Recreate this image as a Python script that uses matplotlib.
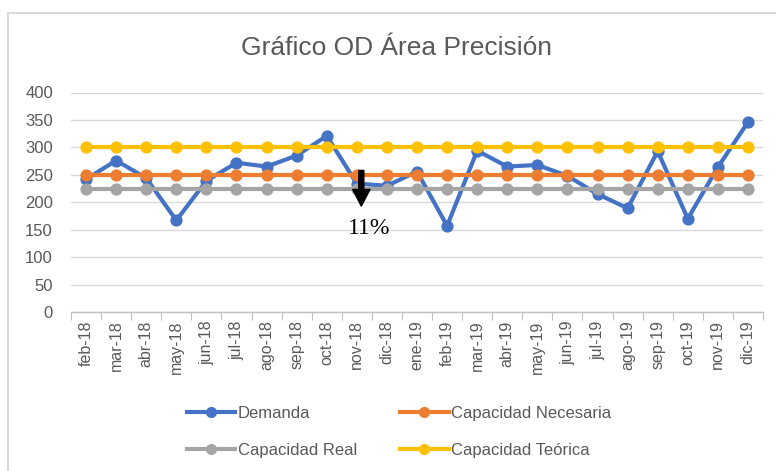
import matplotlib.pyplot as plt
from matplotlib.patches import Rectangle

# Data
meses = ["feb-18", "mar-18", "abr-18", "may-18", "jun-18", "jul-18", "ago-18",
         "sep-18", "oct-18", "nov-18", "dic-18", "ene-19", "feb-19", "mar-19",
         "abr-19", "may-19", "jun-19", "jul-19", "ago-19", "sep-19", "oct-19",
         "nov-19", "dic-19"]
demanda = [242, 276, 244, 167, 239, 272, 265, 285, 321, 234, 230, 256, 157,
           294, 265, 268, 248, 215, 189, 293, 170, 264, 346]
cap_necesaria = [250] * len(meses)
cap_real = [225] * len(meses)
cap_teorica = [300] * len(meses)

plt.rcParams['font.family'] = ['Liberation Sans', 'DejaVu Sans']
gray_text = "#595959"

fig = plt.figure(figsize=(7.76, 4.71), dpi=100)
ax = fig.add_axes([71 / 776, 1 - 312 / 471, 692 / 776, 219.5 / 471])

x = list(range(len(meses)))
style = dict(linewidth=3, marker="o", markersize=7.8)
l1, = ax.plot(x, demanda, color="#4472C4", label="Demanda", **style)
l2, = ax.plot(x, cap_necesaria, color="#ED7D31", label="Capacidad Necesaria", **style)
l3, = ax.plot(x, cap_real, color="#A5A5A5", label="Capacidad Real", **style)
l4, = ax.plot(x, cap_teorica, color="#FFC000", label="Capacidad Teórica", **style)

ax.set_xlim(-0.5, len(meses) - 0.5)
ax.set_ylim(0, 400)
ax.set_yticks(range(0, 401, 50))
ax.grid(axis="y", color="#D9D9D9", linewidth=1)
ax.set_axisbelow(True)
for side in ["top", "right", "left"]:
    ax.spines[side].set_visible(False)
ax.spines["bottom"].set_color("#BFBFBF")
ax.spines["bottom"].set_linewidth(1)

# category ticks between months, labels centred
ax.set_xticks([i - 0.5 for i in range(len(meses) + 1)])
ax.set_xticklabels([])
ax.set_xticks(x, minor=True)
ax.set_xticklabels(meses, minor=True, rotation=90, fontsize=11.5, color=gray_text)
ax.tick_params(axis="x", which="major", length=6, color="#BFBFBF")
ax.tick_params(axis="x", which="minor", length=0, pad=6)
ax.tick_params(axis="y", length=0, labelsize=12, labelcolor=gray_text, pad=13)

# annotation: arrow and percentage
ax.annotate("", xy=(9.15, 193), xytext=(9.15, 258),
            arrowprops=dict(width=3.6, headwidth=12.5, headlength=12,
                            facecolor="black", edgecolor="black"))
ax.text(9.4, 152, "11%", family="Liberation Serif", fontsize=17,
        ha="center", va="center", color="black")

fig.suptitle("Gráfico OD Área Precisión", x=0.511, y=1 - 48 / 471, va="center",
             fontsize=19, color=gray_text)

fig.legend([l1, l3, l2, l4],
           ["Demanda", "Capacidad Real", "Capacidad Necesaria", "Capacidad Teórica"],
           ncol=2, loc="center", bbox_to_anchor=(399 / 776, 1 - 432 / 471),
           frameon=False, fontsize=12, labelcolor=gray_text,
           handlelength=2.9, handletextpad=0.15, columnspacing=2.6,
           labelspacing=1.3, markerscale=0.9)

# outer chart border
fig.patches.append(Rectangle((8 / 776, -0.01), 1.0, 1 - 13 / 471 + 0.01,
                             transform=fig.transFigure, fill=False,
                             edgecolor="#D9D9D9", linewidth=1.5))

fig.savefig("out.png", dpi=100)
